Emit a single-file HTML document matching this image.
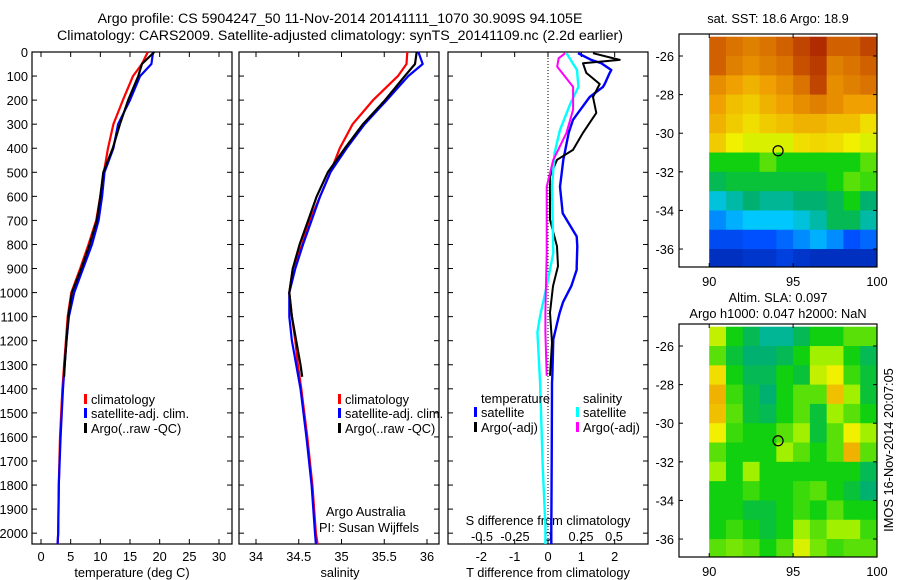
<!DOCTYPE html>
<html><head><meta charset="utf-8"><style>
body{margin:0;background:#fff;}
svg{display:block;font-family:"Liberation Sans",sans-serif;}
text{font-size:12.8px;fill:#000;}
</style></head><body>
<svg id="fig" width="900" height="580" viewBox="0 0 900 580">
<text x="340" y="23" text-anchor="middle" style="font-size:14.2px">Argo profile: CS 5904247_50 11-Nov-2014 20141111_1070 30.909S 94.105E</text>
<text x="340" y="40" text-anchor="middle" style="font-size:14.2px">Climatology: CARS2009. Satellite-adjusted climatology: synTS_20141109.nc (2.2d earlier)</text>
<g id="g"></g>
</svg>
<script>
// ---- profile data ----
const tDepth=[0,50,100,200,300,400,500,600,700,800,900,1000,1100,1200,1300,1400,1600,1800,2000,2045];
const tClim=[18.0,17.0,15.5,13.8,12.2,11.3,10.6,10.0,9.3,8.0,6.6,5.1,4.5,4.2,3.9,3.6,3.2,3.0,2.9,2.8];
const tSat=[18.9,18.6,16.7,15.0,13.0,12.2,10.7,10.3,9.7,8.6,7.1,5.6,4.7,4.3,4.0,3.7,3.3,3.0,2.9,2.8];
const argoDepth=[0,50,100,200,300,400,500,600,700,800,900,1000,1100,1200,1300,1350];
const tArgo=[19.1,17.0,16.4,14.7,13.3,12.1,10.5,10.0,9.4,8.2,6.8,5.2,4.6,4.3,4.0,3.9];
const sClim=[35.77,35.76,35.66,35.37,35.13,34.98,34.87,34.75,34.63,34.54,34.43,34.39,34.42,34.46,34.49,34.53,34.60,34.66,34.70,34.72];
const sSat=[35.90,35.95,35.78,35.53,35.27,35.06,34.87,34.75,34.65,34.55,34.46,34.39,34.39,34.42,34.47,34.52,34.59,34.65,34.69,34.70];
const sArgo=[35.88,35.86,35.74,35.51,35.25,35.04,34.84,34.71,34.61,34.51,34.43,34.39,34.42,34.47,34.52,34.54];
const dDepth=[5,33,47,75,87,133,145,187,253,282,336,407,420,448,517,560,670,767,808,890,905,973,1040,1083,1112,1195,1350,1375,1700,1995,2045];
const dTsat=[0.9,1.3,1.6,1.9,1.85,1.7,1.65,1.25,0.9,0.75,0.62,0.52,0.5,0.46,0.4,0.36,0.44,0.86,0.88,0.86,0.86,0.7,0.45,0.35,0.3,0.16,0.13,0.12,0.11,0.1,0.1];
const dTargoDepth=[5,33,47,87,133,187,253,336,407,448,517,697,808,890,973,1083,1208,1346];
const dTargo=[1.35,2.15,1.05,1.15,1.55,1.35,1.45,1.05,0.75,0.27,0.06,0.06,0.27,0.3,0.15,0.06,0.12,0.06];
const dSsatDepth=[5,75,145,214,325,420,560,835,973,1097,1166,1375,1720,1970,2045];
const dSsat=[0.14,0.22,0.23,0.17,0.09,0.05,0.03,0.04,-0.01,-0.06,-0.08,-0.06,-0.04,-0.02,-0.02];
const dSargoDepth=[5,26,61,89,145,240,336,448,560,835,1083,1166,1346];
const dSargo=[0.13,0.08,0.07,0.11,0.19,0.19,0.14,0.04,-0.01,-0.01,-0.02,-0.02,-0.01];
const depthTicks=[0,100,200,300,400,500,600,700,800,900,1000,1100,1200,1300,1400,1500,1600,1700,1800,1900,2000];
const tTicks=[0,5,10,15,20,25,30];
const sTicks=[34,34.5,35,35.5,36];
const dTTicks=[-2,-1,0,1,2];
const dSTicks=[-0.5,-0.25,0,0.25,0.5];
const dSTickLabels=["-0.5","-0.25","0","0.25","0.5"];
// ---- map data (rows lat -25..-37 top to bottom, cols lon 90..100), normalised colour value ----
const sstGrid=[
[0.85,0.82,0.8,0.82,0.85,0.9,0.95,0.85,0.85,0.9],
[0.85,0.8,0.78,0.8,0.82,0.88,0.92,0.8,0.82,0.85],
[0.78,0.75,0.72,0.75,0.78,0.82,0.9,0.78,0.8,0.82],
[0.75,0.7,0.68,0.72,0.75,0.78,0.8,0.78,0.75,0.75],
[0.72,0.68,0.65,0.68,0.7,0.72,0.72,0.7,0.7,0.65],
[0.68,0.62,0.6,0.6,0.6,0.65,0.66,0.65,0.62,0.6],
[0.45,0.45,0.45,0.5,0.45,0.45,0.45,0.45,0.45,0.5],
[0.4,0.42,0.42,0.42,0.42,0.42,0.42,0.45,0.5,0.48],
[0.32,0.35,0.38,0.36,0.36,0.38,0.38,0.4,0.45,0.38],
[0.25,0.28,0.3,0.3,0.3,0.32,0.35,0.4,0.4,0.35],
[0.18,0.18,0.2,0.2,0.22,0.25,0.28,0.25,0.2,0.22],
[0.1,0.1,0.12,0.12,0.15,0.12,0.1,0.1,0.1,0.1]];
const slaGrid=[
[0.58,0.45,0.4,0.36,0.36,0.4,0.45,0.45,0.5,0.5],
[0.5,0.42,0.38,0.38,0.4,0.45,0.55,0.55,0.45,0.4],
[0.65,0.45,0.4,0.4,0.45,0.42,0.58,0.62,0.48,0.42],
[0.72,0.48,0.42,0.38,0.45,0.5,0.5,0.7,0.55,0.42],
[0.7,0.5,0.42,0.4,0.45,0.5,0.42,0.55,0.5,0.45],
[0.62,0.48,0.45,0.45,0.5,0.55,0.42,0.5,0.62,0.55],
[0.5,0.45,0.45,0.45,0.55,0.5,0.45,0.5,0.72,0.5],
[0.55,0.45,0.55,0.45,0.45,0.45,0.45,0.45,0.45,0.4],
[0.45,0.45,0.48,0.45,0.45,0.48,0.5,0.45,0.42,0.38],
[0.45,0.45,0.42,0.42,0.45,0.48,0.45,0.5,0.45,0.45],
[0.45,0.48,0.45,0.42,0.45,0.55,0.5,0.55,0.55,0.48],
[0.5,0.52,0.5,0.45,0.5,0.6,0.52,0.48,0.5,0.5]];
const mapLatTicks=[-26,-28,-30,-32,-34,-36];
const mapLonTicks=[90,95,100];
const argoPos=[94.105,-30.909];

const NS="http://www.w3.org/2000/svg";
const G=document.getElementById('g');
function mk(tag,attrs,parent){const e=document.createElementNS(NS,tag);for(const k in attrs)e.setAttribute(k,attrs[k]);(parent||G).appendChild(e);return e;}
function txt(x,y,s,anchor,parent,size){const t=mk('text',{x:x,y:y,'text-anchor':anchor||'middle'},parent);if(size)t.style.fontSize=size+'px';t.textContent=s;return t;}

const Y0=52,Y1=544,DMAX=2045;
const yD=d=>Y0+d/DMAX*(Y1-Y0);
function lin(d0,d1,r0,r1){return v=>r0+(v-d0)/(d1-d0)*(r1-r0);}
const xT=lin(0,30,41,219);
const xS=lin(34,36,256,427);
const xDT=lin(-3,3,448,648);
const xDS=lin(-0.5,0.5,482,614);

function panel(x0,x1,name){
 const r=mk('rect',{x:x0,y:Y0,width:x1-x0,height:Y1-Y0,fill:'none',stroke:'#000','stroke-width':1.2});
 
 
 depthTicks.forEach(d=>{const y=yD(d);mk('line',{x1:x0,x2:x0+5,y1:y,y2:y,stroke:'#000'});mk('line',{x1:x1,x2:x1-5,y1:y,y2:y,stroke:'#000'});});
}
function line(xs,ds,sc,color,name,w){
 const pts=xs.map((v,i)=>sc(v).toFixed(1)+','+yD(ds[i]).toFixed(1)).join(' ');
 const p=mk('polyline',{points:pts,fill:'none',stroke:color,'stroke-width':w||2.2,'stroke-linejoin':'round'});
 
 
}
function xticks(ticks,sc,labels,yLab,x0,x1){
 ticks.forEach((t,i)=>{const x=sc(t);if(x<x0||x>x1)return;mk('line',{x1:x,x2:x,y1:Y1,y2:Y1-5,stroke:'#000'});mk('line',{x1:x,x2:x,y1:Y0,y2:Y0+5,stroke:'#000'});if(yLab)txt(x,yLab,labels?labels[i]:String(t));});
}
function legendItem(x,y,color,label,name){
 const r=mk('rect',{x:x,y:y-10,width:3,height:10,fill:color});
 
 
 const t=txt(x+7,y,label,'start');
 
 
}

// panel 1 temperature
panel(32,232,'temperature-axes');
depthTicks.forEach(d=>txt(28,yD(d)+5,String(d),'end'));
xticks(tTicks,xT,null,561,32,232);
txt(132,577,'temperature (deg C)');
line(tClim,tDepth,xT,'#ff0000','temp-climatology-line');
line(tSat,tDepth,xT,'#0000ff','temp-satellite-line');
line(tArgo,argoDepth,xT,'#000000','temp-argo-line');
legendItem(84,404,'#ff0000','climatology','legend-climatology');
legendItem(84,418,'#0000ff','satellite-adj. clim.','legend-satellite-adj');
legendItem(84,433,'#000000','Argo(..raw -QC)','legend-argo');

// panel 2 salinity
panel(239,439,'salinity-axes');
xticks(sTicks,xS,null,561,239,439);
txt(340,577,'salinity');
line(sClim,tDepth,xS,'#ff0000','sal-climatology-line');
line(sSat,tDepth,xS,'#0000ff','sal-satellite-line');
line(sArgo,argoDepth,xS,'#000000','sal-argo-line');
legendItem(338,404,'#ff0000','climatology','legend2-climatology');
legendItem(338,418,'#0000ff','satellite-adj. clim.','legend2-satellite-adj');
legendItem(338,433,'#000000','Argo(..raw -QC)','legend2-argo');
txt(326,516,'Argo Australia','start');
txt(319,532,'PI: Susan Wijffels','start');

// panel 3 differences
panel(448,648,'difference-axes');
mk('line',{x1:xDT(0),x2:xDT(0),y1:Y0,y2:Y1,stroke:'#000','stroke-dasharray':'1,2'});
xticks(dTTicks,xDT,null,561,448,648);
txt(548,577,'T difference from climatology');
txt(548,525,'S difference from climatology');
dSTicks.forEach((t,i)=>txt(xDS(t),541,dSTickLabels[i]));
line(dTsat,dDepth,xDT,'#0000ff','dT-satellite-line',2.4);
line(dTargo,dTargoDepth,xDT,'#000000','dT-argo-line',2);
line(dSsat,dSsatDepth,xDS,'#00ffff','dS-satellite-line',2.4);
line(dSargo,dSargoDepth,xDS,'#ff00ff','dS-argo-line',2);
txt(481,403,'temperature','start');
legendItem(474,417,'#0000ff','satellite','legend3-temp-satellite');
legendItem(474,432,'#000000','Argo(-adj)','legend3-temp-argo');
txt(583,403,'salinity','start');
legendItem(576,417,'#00ffff','satellite','legend3-sal-satellite');
legendItem(576,432,'#ff00ff','Argo(-adj)','legend3-sal-argo');

// ---- maps ----
const stops=[[0,[0,16,128]],[0.2,[0,80,255]],[0.3,[0,200,255]],[0.38,[0,176,112]],[0.45,[16,208,16]],[0.55,[160,240,0]],[0.62,[240,240,0]],[0.75,[240,160,0]],[0.85,[208,96,0]],[1,[160,16,0]]];
function cmap(v){for(let i=1;i<stops.length;i++){if(v<=stops[i][0]){const a=stops[i-1],b=stops[i];const f=(v-a[0])/(b[0]-a[0]);const c=a[1].map((x,k)=>Math.round(x+f*(b[1][k]-x)));return 'rgb('+c.join(',')+')';}}return 'rgb(160,16,0)';}
function drawMap(top,grid,name,idx){
 const bot=top+233,L=679,R=877;
 const xL=lin(88.2,100,L,R), yL=lin(-24.86,-36.93,top,bot);
 const cp=mk('clipPath',{id:'clip'+idx});mk('rect',{x:L,y:top,width:R-L,height:bot-top},cp);
 const g=mk('g',{'clip-path':'url(#clip'+idx+')'});
 
 
 grid.forEach((row,r)=>row.forEach((v,c)=>{
  const x=xL(90+c),y=yL(-25-r);
  const cell=mk('rect',{x:x,y:y,width:xL(91+c)-x+0.5,height:yL(-26-r)-y+0.5,fill:cmap(v)},g);
  
  
 }));
 const fr=mk('rect',{x:L,y:top,width:R-L,height:bot-top,fill:'none',stroke:'#000','stroke-width':1.2});
 
 
 mapLatTicks.forEach(t=>{const y=yL(t);mk('line',{x1:L,x2:L+4,y1:y,y2:y,stroke:'#000'});mk('line',{x1:R,x2:R-4,y1:y,y2:y,stroke:'#000'});txt(674,y+5,String(t),'end');});
 mapLonTicks.forEach(t=>{const x=xL(t);mk('line',{x1:x,x2:x,y1:bot,y2:bot-4,stroke:'#000'});mk('line',{x1:x,x2:x,y1:top,y2:top+4,stroke:'#000'});txt(x,bot+19,String(t));});
 const c=mk('circle',{cx:xL(argoPos[0]),cy:yL(argoPos[1]),r:5,fill:'none',stroke:'#000','stroke-width':1.2});
 
 
}
drawMap(34,sstGrid,'sst-map',1);
drawMap(324,slaGrid,'sla-map',2);
txt(778,23,'sat. SST: 18.6 Argo: 18.9');
txt(778,302,'Altim. SLA: 0.097');
txt(778,318,'Argo h1000: 0.047 h2000: NaN');
const im=txt(0,0,'IMOS 16-Nov-2014 20:07:05');
im.setAttribute('transform','translate(893,450) rotate(-90)');


</script>
</body></html>
